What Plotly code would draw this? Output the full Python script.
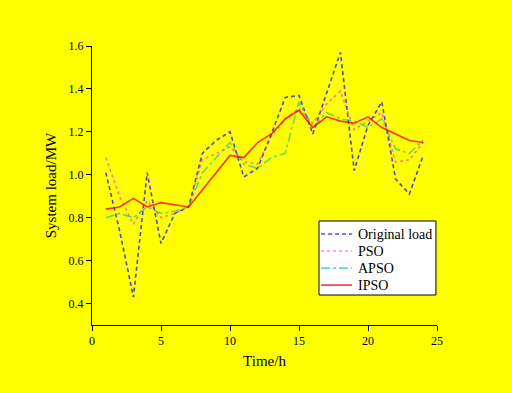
import plotly.graph_objects as go

hours = list(range(1, 25))
original = [1.01, 0.74, 0.43, 1.01, 0.68, 0.82, 0.85, 1.10, 1.16, 1.20, 0.99, 1.03,
            1.19, 1.36, 1.37, 1.19, 1.38, 1.57, 1.02, 1.23, 1.34, 0.98, 0.91, 1.09]
pso = [1.08, 0.90, 0.77, 0.88, 0.80, 0.82, 0.85, 1.07, 1.10, 1.13, 1.06, 1.05,
       1.18, 1.26, 1.31, 1.24, 1.33, 1.39, 1.21, 1.25, 1.29, 1.06, 1.07, 1.15]
apso = [0.80, 0.82, 0.80, 0.85, 0.82, 0.83, 0.85, 1.01, 1.08, 1.15, 1.05, 1.03,
        1.08, 1.10, 1.34, 1.22, 1.29, 1.26, 1.25, 1.22, 1.26, 1.12, 1.10, 1.16]
ipso = [0.84, 0.85, 0.89, 0.85, 0.87, 0.86, 0.85, 0.93, 1.01, 1.09, 1.08, 1.15,
        1.19, 1.26, 1.30, 1.22, 1.27, 1.25, 1.24, 1.27, 1.22, 1.19, 1.16, 1.15]
names = ["Original load", "PSO", "APSO", "IPSO"]

colors = ["rgba(0,0,255,0.7)", "rgba(255,0,255,0.5)", "rgba(0,190,160,0.6)", "rgba(255,0,0,0.8)"]
dashes = ["4px,3px", "dot", "dashdot", "solid"]

fig = go.Figure()
for name, vals, color, dash in zip(names, [original, pso, apso, ipso], colors, dashes):
    fig.add_trace(go.Scatter(x=hours, y=vals, mode="lines", name=name,
                             line=dict(color=color, dash=dash, width=1.6)))

font = "Liberation Serif, Times New Roman, serif"

# hand-drawn legend box (compact, like the reference)
shapes = [dict(type="rect", xref="paper", yref="paper", x0=0.658, x1=0.997,
               y0=0.1075, y1=0.3728, fillcolor="white",
               line=dict(color="black", width=1), layer="above")]
annotations = []
row_y = [0.326, 0.265, 0.204, 0.143]
for name, color, dash, yy in zip(names, colors, dashes, row_y):
    shapes.append(dict(type="line", xref="paper", yref="paper", x0=0.664, x1=0.754,
                       y0=yy, y1=yy, line=dict(color=color, dash=dash, width=1.6),
                       layer="above"))
    annotations.append(dict(xref="paper", yref="paper", x=0.765, y=yy, text=name,
                            showarrow=False, xanchor="left", yanchor="middle",
                            font=dict(size=14, family=font, color="black")))

fig.update_layout(
    width=512, height=393,
    paper_bgcolor="#FFFF00", plot_bgcolor="#FFFF00",
    margin=dict(l=92, r=75, t=46, b=68),
    font=dict(family=font, color="black", size=12),
    showlegend=False,
    shapes=shapes, annotations=annotations,
    xaxis=dict(range=[0, 25], tickvals=[0, 5, 10, 15, 20, 25], showgrid=False,
               zeroline=False, showline=True, linecolor="black", linewidth=1,
               ticks="outside", ticklen=5, tickcolor="black",
               title=dict(text="Time/h", font=dict(size=15), standoff=8)),
    yaxis=dict(range=[0.3, 1.6], tickvals=[0.4, 0.6, 0.8, 1.0, 1.2, 1.4, 1.6],
               tickformat=".1f", showgrid=False, zeroline=False, showline=True,
               linecolor="black", linewidth=1, ticks="outside", ticklen=5,
               tickcolor="black",
               title=dict(text="System load/MW", font=dict(size=15), standoff=8)),
)
fig.write_html("out.html", config={"displayModeBar": False},
               post_script="document.body.style.margin='0';document.body.style.padding='0';")
